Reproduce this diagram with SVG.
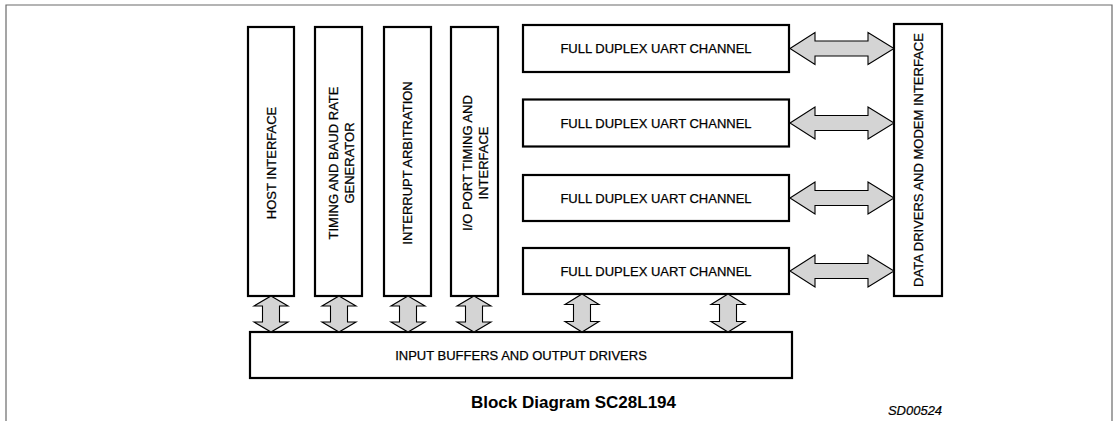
<svg xmlns="http://www.w3.org/2000/svg" width="1118" height="421" viewBox="0 0 1118 421">
<style>
.box{fill:#fff;stroke:#000;stroke-width:2.2}
.lbl{font-family:"Liberation Sans",Arial,sans-serif;font-size:13px;fill:#000;stroke:#000;stroke-width:0.25;text-anchor:middle}
.arr{fill:#d4d4d4;stroke:#000;stroke-width:1.1;stroke-linejoin:miter}
.frame{fill:none;stroke:#6a6a6a;stroke-width:1.2}
</style>
<rect width="1118" height="421" fill="#fff"/>
<path class="frame" d="M6,421 V5 H1112 V421"/>

<g id="host-interface">
<rect class="box" x="248" y="27" width="46" height="269"/>
<text class="lbl" transform="translate(271,163) rotate(-90)" dy="0.36em">HOST INTERFACE</text>
</g>
<g id="timing-baud">
<rect class="box" x="315" y="27" width="47" height="269"/>
<text class="lbl" transform="translate(333,163) rotate(-90)" dy="0.36em">TIMING AND BAUD RATE</text>
<text class="lbl" transform="translate(349,163) rotate(-90)" dy="0.36em">GENERATOR</text>
</g>
<g id="interrupt-arbitration">
<rect class="box" x="384" y="27" width="47" height="269"/>
<text class="lbl" transform="translate(407,163) rotate(-90)" dy="0.36em">INTERRUPT ARBITRATION</text>
</g>
<g id="io-port">
<rect class="box" x="451" y="27" width="47" height="269"/>
<text class="lbl" transform="translate(467,163) rotate(-90)" dy="0.36em">I/O PORT TIMING AND</text>
<text class="lbl" transform="translate(483,163) rotate(-90)" dy="0.36em">INTERFACE</text>
</g>
<g id="uart-1">
<rect class="box" x="523" y="25" width="266" height="47"/>
<text class="lbl" x="656" y="48.5" dy="0.36em">FULL DUPLEX UART CHANNEL</text>
</g>
<g id="uart-2">
<rect class="box" x="523" y="99.5" width="266" height="47"/>
<text class="lbl" x="656" y="123" dy="0.36em">FULL DUPLEX UART CHANNEL</text>
</g>
<g id="uart-3">
<rect class="box" x="523" y="175" width="266" height="46"/>
<text class="lbl" x="656" y="198" dy="0.36em">FULL DUPLEX UART CHANNEL</text>
</g>
<g id="uart-4">
<rect class="box" x="523" y="248" width="266" height="46"/>
<text class="lbl" x="656" y="271" dy="0.36em">FULL DUPLEX UART CHANNEL</text>
</g>
<g id="data-drivers">
<rect class="box" x="894" y="24" width="48" height="272"/>
<text class="lbl" transform="translate(918,160) rotate(-90)" dy="0.36em">DATA DRIVERS AND MODEM INTERFACE</text>
</g>
<g id="input-buffers">
<rect class="box" x="250" y="332" width="542" height="46"/>
<text class="lbl" x="521" y="355" dy="0.36em">INPUT BUFFERS AND OUTPUT DRIVERS</text>
</g>

<g id="connectors">
<path class="arr" d="M790,48.5 L815,32.5 L815,41 L868,41 L868,32.5 L894,48.5 L868,64.5 L868,56 L815,56 L815,64.5 Z"/>
<path class="arr" d="M790,123 L815,107 L815,115.5 L868,115.5 L868,107 L894,123 L868,139 L868,130.5 L815,130.5 L815,139 Z"/>
<path class="arr" d="M790,198 L815,182 L815,190.5 L868,190.5 L868,182 L894,198 L868,214 L868,205.5 L815,205.5 L815,214 Z"/>
<path class="arr" d="M790,271 L815,255 L815,263.5 L868,263.5 L868,255 L894,271 L868,287 L868,278.5 L815,278.5 L815,287 Z"/>
<path class="arr" d="M271,296 L288,306 L279.5,306 L279.5,322 L288,322 L271,332 L254,322 L262.5,322 L262.5,306 L254,306 Z"/>
<path class="arr" d="M339,296 L356,306 L347.5,306 L347.5,322 L356,322 L339,332 L322,322 L330.5,322 L330.5,306 L322,306 Z"/>
<path class="arr" d="M408,296 L425,306 L416.5,306 L416.5,322 L425,322 L408,332 L391,322 L399.5,322 L399.5,306 L391,306 Z"/>
<path class="arr" d="M474,296 L491,306 L482.5,306 L482.5,322 L491,322 L474,332 L457,322 L465.5,322 L465.5,306 L457,306 Z"/>
<path class="arr" d="M582,294 L599,304.5 L590.5,304.5 L590.5,321.5 L599,321.5 L582,332 L565,321.5 L573.5,321.5 L573.5,304.5 L565,304.5 Z"/>
<path class="arr" d="M728,294 L745,304.5 L736.5,304.5 L736.5,321.5 L745,321.5 L728,332 L711,321.5 L719.5,321.5 L719.5,304.5 L711,304.5 Z"/>
</g>

<text x="573.5" y="408" font-family="'Liberation Sans',Arial,sans-serif" font-size="17" font-weight="bold" text-anchor="middle" fill="#000">Block Diagram SC28L194</text>
<text x="915" y="415" font-family="'Liberation Sans',Arial,sans-serif" font-size="13" font-style="italic" text-anchor="middle" fill="#000" stroke="#000" stroke-width="0.2">SD00524</text>
</svg>
